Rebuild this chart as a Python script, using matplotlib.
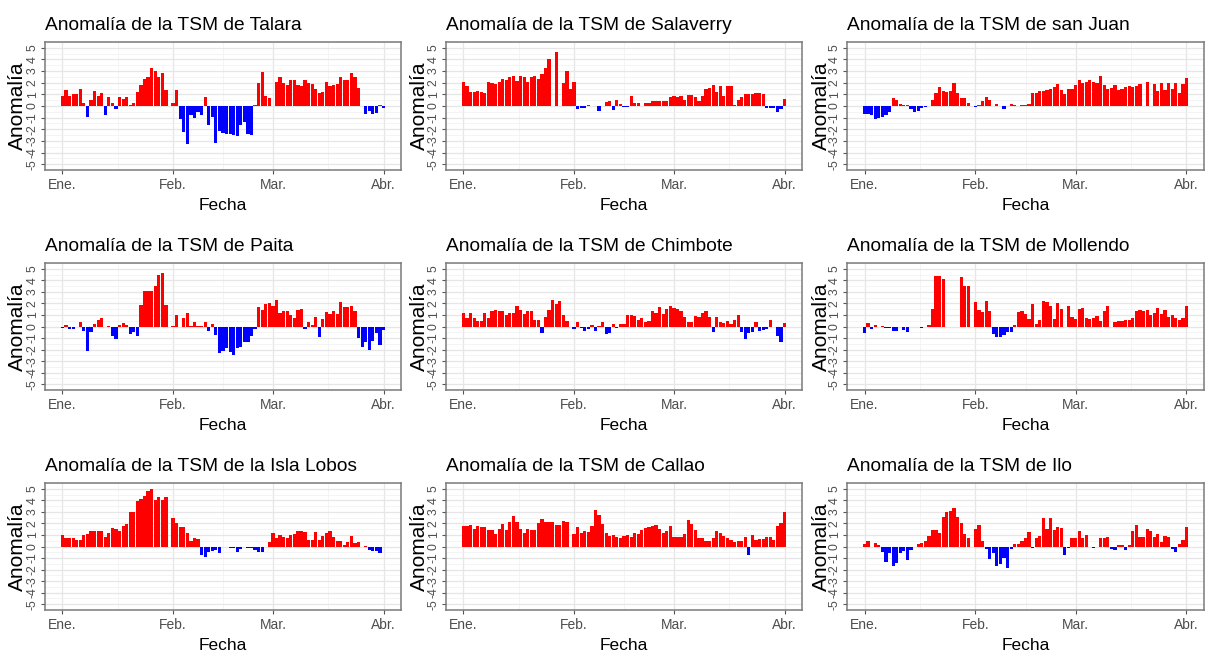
import numpy as np
import pandas as pd
import matplotlib
matplotlib.use("Agg")
import matplotlib.pyplot as plt
import matplotlib.dates as mdates
from matplotlib.ticker import FixedLocator

plt.rcParams['font.family'] = ['Liberation Sans', 'DejaVu Sans']

# ---------------- data ----------------
dates = pd.date_range("2017-01-01", "2017-04-01", freq="D")
month_ticks = pd.to_datetime(["2017-01-01", "2017-02-01", "2017-03-01", "2017-04-01"])
month_labels = ["Ene.", "Feb.", "Mar.", "Abr."]
y_ticks = list(range(-5, 6))
N = None

talara = [0.83, 1.4, 0.9, 1.0, 1.0, 1.5, 0.3, -0.95, 0.55, 1.25,
          0.9, 1.15, -0.8, 0.75, 0.25, -0.25, 0.8, 0.6, 0.8, 0.05,
          0.3, 1.2, 1.8, 2.3, 2.45, 3.25, 3.05, 2.45, 2.8, 1.4,
          N, 0.25, 1.35, -1.1, -2.2, -3.3, -0.8, -1.0, -0.55, -0.75,
          0.75, -1.6, -0.95, -3.2, -2.15, -2.3, -2.4, -2.4, -2.5, -2.6,
          -1.6, -1.4, -2.4, -2.5, 0.05, 2.0, 2.95, 0.85, 0.7, N,
          2.05, 2.45, 2.0, 1.8, 2.2, 2.25, 1.8, 1.7, 2.25, 2.0,
          1.85, 1.5, 1.1, 1.2, 2.1, 1.7, 1.8, 1.85, 2.5, 2.25,
          2.2, 2.8, 2.45, 1.55, 0.03, -0.65, -0.4, -0.65, -0.6, 0.05,
          -0.15]

salaverry = [2.05, 1.7, 1.2, 1.2, 1.3, 1.2, 1.1, 2.05, 2.0, 1.85,
             2.1, 2.35, 2.25, 2.45, 2.6, 2.15, 2.55, 2.45, 2.1, 2.45,
             2.55, 2.3, 2.75, 3.25, 4.05, N, 4.6, N, 2.0, 3.05,
             1.45, 2.05, -0.25, -0.2, -0.15, 0.1, N, N, -0.45, N,
             0.35, 0.4, -0.35, 0.55, 0.15, -0.1, -0.1, 0.85, 0.25, 0.3,
             N, 0.25, 0.25, 0.4, 0.4, 0.4, 0.4, 0.4, 0.8, 0.9,
             0.75, 0.85, 0.5, 0.95, 0.95, 0.75, 0.45, 0.85, 1.5, 1.55,
             1.8, 1.2, 1.75, 0.85, 1.75, 1.7, 0.05, 0.55, 0.8, 1.05,
             1.0, 1.0, 1.15, 1.15, 1.0, -0.15, -0.15, -0.2, -0.5, -0.3,
             0.6]

san_juan = [-0.65, -0.65, -0.75, -1.15, -1.05, -0.95, -0.75, -0.55, 0.65, 0.5,
            0.2, 0.05, 0.05, -0.25, -0.5, -0.4, -0.2, -0.1, N, 0.5,
            1.1, 1.6, 1.3, 1.2, 1.25, 1.95, 1.15, 0.7, 0.7, 0.25,
            N, -0.1, 0.05, 0.45, 0.8, 0.5, N, 0.2, N, -0.3,
            N, 0.2, 0.1, N, 0.05, 0.05, 0.2, 1.15, 1.15, 1.3,
            1.3, 1.35, 1.45, 1.6, 1.9, 1.4, 1.0, 1.45, 1.45, 1.8,
            2.25, 1.95, 2.1, 2.25, 2.1, 1.95, 2.6, 1.8, 1.5, 1.55,
            1.8, 1.4, 1.5, 1.6, 1.7, 1.65, 1.75, 1.9, N, 2.05,
            N, 1.85, 1.25, 2.0, 1.35, 2.0, 1.45, 2.0, 1.15, 1.85,
            2.4]

paita = [-0.15, 0.15, -0.2, -0.2, N, 0.4, -0.35, -2.1, -0.45, 0.25,
         0.55, 0.75, N, 0.05, -0.85, -1.05, 0.15, 0.3, 0.15, -0.65,
         -0.45, -0.85, 1.9, 3.1, 3.1, 3.1, 3.5, 4.45, 4.6, 1.85,
         N, 0.05, 1.0, N, 0.75, 1.15, 0.05, 0.4, 0.05, 0.05,
         0.4, -0.4, 0.25, -0.75, -2.3, -2.1, -1.9, -2.2, -2.5, -1.85,
         -1.75, -1.3, -1.35, -0.85, -0.25, 1.65, 1.45, 1.95, 2.05, 1.75,
         2.3, 1.15, 1.3, 1.3, 1.0, 0.75, 1.4, 1.55, -0.2, 0.35,
         0.15, 0.85, -0.95, 0.65, 1.25, 1.05, 1.35, 1.05, 2.15, 1.7,
         1.7, 1.8, 1.3, -1.0, -1.75, -1.3, -2.0, -1.25, -0.6, -1.6,
         -0.3]

chimbote = [1.15, 0.75, 1.2, 0.7, 0.5, 0.5, 1.2, 0.75, 1.35, 1.45,
            1.3, 1.3, 1.0, 1.15, 1.15, 1.8, 1.4, 1.05, 1.3, 1.3,
            0.55, 0.55, -0.55, 0.8, 1.4, 2.3, 1.95, 2.2, 1.0, 0.5,
            N, -0.2, 0.35, -0.1, -0.35, -0.2, 0.15, -0.4, 0.05, 0.35,
            -0.65, -0.55, 0.25, -0.15, 0.2, 0.2, 1.0, 1.0, 0.95, 0.6,
            0.7, 0.4, 0.45, 1.3, 1.2, 1.7, 1.05, 1.55, 1.8, 1.6,
            1.5, 1.3, 0.85, 0.35, 0.4, 0.9, 0.8, 1.2, 1.35, 0.8,
            -0.45, 0.85, 0.35, 0.3, 0.45, 0.2, 0.6, 1.0, -0.5, -1.05,
            -0.6, -0.45, 0.35, -0.4, -0.3, -0.2, 0.55, -0.05, -0.85, -1.35,
            0.3]

mollendo = [-0.55, 0.3, -0.25, 0.15, -0.05, 0.05, -0.1, -0.15, -0.4, -0.4,
            N, -0.3, -0.45, N, N, N, -0.15, N, 0.15, 1.55,
            4.4, 4.4, 4.1, N, N, N, N, 4.25, 3.5, 3.55,
            N, 2.15, 1.45, 1.25, 2.25, 1.35, -0.65, -0.95, -0.95, -0.7,
            -0.5, -0.45, 0.15, 1.25, 1.35, 1.05, 0.65, 1.95, 0.25, 0.55,
            2.25, 2.15, 1.8, 0.65, 2.05, 1.5, N, 1.75, 0.85, 0.65,
            1.55, 1.6, 0.75, 0.65, 0.7, 0.9, 0.45, 1.35, 1.75, N,
            0.35, 0.45, 0.5, 0.55, 0.6, 0.7, 1.3, 1.45, 1.35, 1.45,
            1.0, 1.15, 1.6, 1.1, 1.4, 0.85, 1.0, 0.75, 0.55, 0.75,
            1.75]

isla_lobos = [1.0, 0.7, 0.7, 0.7, 0.55, 0.55, 1.0, 1.05, 1.35, 1.35,
              1.3, 1.3, 0.8, 1.15, 1.6, 1.5, 1.3, 1.75, 1.95, 2.95,
              2.95, 3.9, 4.1, 4.4, 4.8, 4.95, 4.0, 4.3, 4.0, 4.25,
              N, 2.45, 2.0, 1.7, 1.7, 1.2, 0.45, 0.75, 0.65, -0.7,
              -0.9, -0.45, -0.4, -0.3, -0.6, N, N, -0.1, -0.1, -0.5,
              -0.2, N, -0.1, -0.15, -0.3, -0.5, -0.45, N, 0.35, 1.2,
              0.75, 1.0, 0.85, 0.75, 1.0, 1.05, 1.3, 1.3, 1.25, 0.6,
              0.6, 1.25, 0.6, 0.95, 1.2, 1.35, 0.85, 0.5, 0.45, 0.1,
              0.4, 0.95, 0.3, 0.4, N, 0.02, -0.3, -0.35, -0.4, -0.6,
              N]

callao = [1.8, 1.75, 1.85, 1.55, 1.75, 1.7, 1.65, 1.45, 1.45, 1.05,
          1.55, 1.95, 1.45, 2.1, 2.6, 2.1, 1.55, 1.15, 1.55, 1.4,
          1.45, 2.0, 2.35, 2.15, 2.1, 2.1, 1.85, 1.85, 2.25, 2.1,
          N, 1.1, 1.7, 1.2, 1.3, 1.25, 1.8, 3.15, 2.7, 1.95,
          1.2, 0.95, 1.0, 0.85, 0.7, 0.95, 1.0, 0.85, 1.2, 1.05,
          1.45, 1.6, 1.65, 1.75, 1.85, 1.55, 1.2, 1.35, 1.75, 0.85,
          0.8, 0.8, 1.05, 2.3, 1.95, 1.45, 0.75, 0.75, 0.5, 0.5,
          0.75, 1.35, 1.15, 0.95, 0.7, 0.6, 0.35, 0.5, 0.5, 0.85,
          -0.7, 1.0, 0.55, 0.65, 0.65, 0.8, 0.8, 0.55, 1.75, 2.0,
          3.0]

ilo = [0.25, 0.5, -0.05, 0.3, 0.15, -0.5, -1.3, -0.6, -1.65, -1.4,
       -0.6, -0.4, -1.2, -0.3, N, 0.2, 0.3, 0.45, 0.95, 1.4,
       1.45, 1.2, 2.55, 3.0, 3.1, 3.3, 2.55, 2.05, 1.05, 0.75,
       N, 1.55, 1.85, 0.45, -0.25, -1.1, -0.6, -1.65, -1.5, -1.0,
       -1.85, -0.2, 0.2, 0.25, 0.45, 0.7, 1.25, -0.15, 0.7, 0.95,
       2.5, 1.55, 2.5, 1.45, 1.65, 1.6, -0.7, -0.15, 0.7, 0.75,
       1.35, 0.75, 1.0, N, -0.15, N, 0.7, 0.75, 0.85, -0.2,
       -0.3, 0.15, 0.15, -0.3, 0.15, 1.35, 1.9, 0.8, 0.85, 1.55,
       1.3, 0.8, 1.1, 0.35, 0.9, 0.8, -0.2, -0.45, 0.25, 0.55,
       1.65]

titles = ["Anomalía de la TSM de Talara", "Anomalía de la TSM de Salaverry",
          "Anomalía de la TSM de san Juan", "Anomalía de la TSM de Paita",
          "Anomalía de la TSM de Chimbote", "Anomalía de la TSM de Mollendo",
          "Anomalía de la TSM de la Isla Lobos", "Anomalía de la TSM de Callao",
          "Anomalía de la TSM de Ilo"]
series = [talara, salaverry, san_juan, paita, chimbote, mollendo,
          isla_lobos, callao, ilo]
for t, s in zip(titles, series):
    assert len(s) == len(dates), f"{t}: {len(s)}"

# ---------------- layout ----------------
W, H = 1208, 657
fig = plt.figure(figsize=(W / 100, H / 100), dpi=100)
fig.patch.set_facecolor("white")

col_x = [(45, 401), (446, 802), (847, 1204)]
row_y = [(42, 170), (263, 390), (483, 610)]
ylab_x = [17, 419, 821]

RED = "#FF0000"
BLUE = "#0000FF"
GRID = "#E6E6E6"
TXT = "#4D4D4D"

for k, (title, vals) in enumerate(zip(titles, series)):
    r, c = divmod(k, 3)
    x0, x1 = col_x[c]
    y0, y1 = row_y[r]
    ax = fig.add_axes([x0 / W, 1 - y1 / H, (x1 - x0) / W, (y1 - y0) / H])
    v = np.array([np.nan if e is None else e for e in vals], dtype=float)
    ok = ~np.isnan(v)
    colors = np.where(v >= 0, RED, BLUE)
    ax.bar(dates[ok], v[ok], width=0.9, color=colors[ok], edgecolor="none",
           zorder=3)

    ax.set_xlim(dates[0] - pd.Timedelta(days=4.9), dates[-1] + pd.Timedelta(days=4.9))
    ax.set_ylim(-5.5, 5.5)

    ax.set_xticks(month_ticks)
    ax.set_xticklabels(month_labels)
    mids = [month_ticks[i] + (month_ticks[i + 1] - month_ticks[i]) / 2 for i in range(3)]
    ax.xaxis.set_minor_locator(FixedLocator(mdates.date2num(mids)))
    ax.set_yticks(y_ticks)
    ax.set_yticklabels([str(t) for t in y_ticks], rotation=90, va="center")
    ax.yaxis.set_minor_locator(FixedLocator(np.arange(-5.5, 5.6, 0.5)))

    ax.grid(which="major", color=GRID, linewidth=0.9, zorder=0)
    ax.grid(which="minor", color="#F0F0F0", linewidth=0.5, zorder=0)
    ax.set_axisbelow(True)
    ax.tick_params(which="major", length=3, width=0.8, color="#555555",
                   labelcolor=TXT)
    ax.tick_params(axis="x", which="major", labelsize=10, pad=3)
    ax.tick_params(axis="y", which="major", labelsize=8.8, pad=1.5)
    ax.tick_params(which="minor", length=0)
    for sp in ax.spines.values():
        sp.set_color("#7A7A7A")
        sp.set_linewidth(1.1)

    fig.text(x0 / W, 1 - (y0 - 12) / H, title, fontsize=13.8, ha="left",
             va="baseline", color="black")
    fig.text((x0 + x1) / 2 / W, 1 - (y1 + 35) / H, "Fecha", fontsize=12.5,
             ha="center", va="center", color="black")
    fig.text(ylab_x[c] / W, 1 - ((y0 + y1) / 2) / H, "Anomalía", fontsize=15,
             rotation=90, ha="center", va="center", color="black")

fig.savefig("out.png", dpi=100, facecolor="white")
